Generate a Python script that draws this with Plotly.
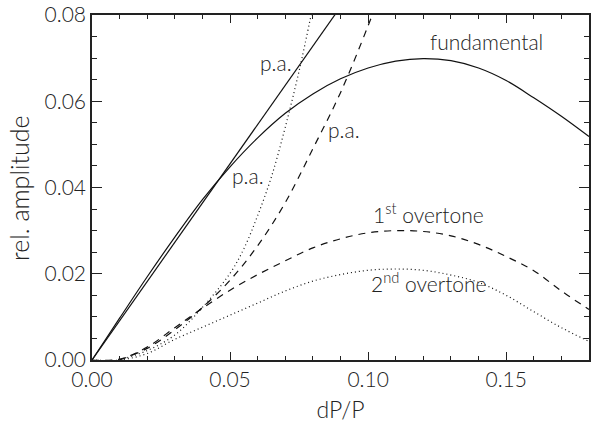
import plotly.graph_objects as go

# ---- data ----
x_grid = [0.00, 0.01, 0.02, 0.03, 0.04, 0.05, 0.06, 0.07, 0.08, 0.09,
          0.10, 0.11, 0.12, 0.13, 0.14, 0.15, 0.16, 0.17, 0.18]
fundamental = [0.0, 0.0097, 0.0193, 0.0285, 0.0372, 0.0448, 0.0515, 0.0572, 0.0617, 0.0652,
               0.0677, 0.0693, 0.0699, 0.0694, 0.0677, 0.0648, 0.0608, 0.0565, 0.0518]
overtone1 = [0.0, 0.0002, 0.0030, 0.0075, 0.0120, 0.0162, 0.0198, 0.0230, 0.0260, 0.0281,
             0.0295, 0.0300, 0.0298, 0.0288, 0.0268, 0.0240, 0.0207, 0.0160, 0.0117]
overtone2 = [0.0, 0.0000, 0.0015, 0.0048, 0.0076, 0.0104, 0.0132, 0.0160, 0.0183, 0.0198,
             0.0208, 0.0211, 0.0208, 0.0197, 0.0180, 0.0150, 0.0112, 0.0075, 0.0043]

pa_fund_x = [0.0, 0.09]
pa_fund_y = [0.0, 0.0819]

pa_ot1_x = [0.01, 0.02, 0.03, 0.04, 0.05, 0.06, 0.07, 0.08, 0.09, 0.10, 0.105]
pa_ot1_y = [0.0, 0.0027, 0.0070, 0.0122, 0.0185, 0.0265, 0.0365, 0.0490, 0.0620, 0.0775, 0.0860]

pa_ot2_x = [0.01, 0.02, 0.03, 0.04, 0.05, 0.055, 0.06, 0.065, 0.07, 0.075, 0.08]
pa_ot2_y = [0.0, 0.0022, 0.0058, 0.0122, 0.0201, 0.0258, 0.0335, 0.0425, 0.0540, 0.0670, 0.0820]

x_ticks = [0.00, 0.05, 0.10, 0.15]
y_ticks = [0.00, 0.02, 0.04, 0.06, 0.08]

labels = ["p.a.", "p.a.", "p.a.", "fundamental", "1<sup>st</sup> overtone", "2<sup>nd</sup> overtone"]
label_x = [0.0668, 0.0913, 0.0566, 0.1429, 0.122, 0.122]
label_y = [0.0690, 0.0534, 0.0428, 0.0738, 0.0340, 0.0180]

x_title = "dP/P"
y_title = "rel. amplitude"

FONT = "Lato, DejaVu Sans"
WEIGHT = 300
INK = "#111111"
TXT = "#222222"

fig = go.Figure()
line_solid = dict(color=INK, width=1.2)
line_dash = dict(color=INK, width=1.2, dash="7px,6px")
line_dot = dict(color=INK, width=1.2, dash="1px,3px")

fig.add_trace(go.Scatter(x=x_grid, y=fundamental, mode="lines", line_shape="spline", line=line_solid, name="fundamental"))
fig.add_trace(go.Scatter(x=pa_fund_x, y=pa_fund_y, mode="lines", line=line_solid, name="p.a. fundamental"))
fig.add_trace(go.Scatter(x=x_grid, y=overtone1, mode="lines", line_shape="spline", line=line_dash, name="1st overtone"))
fig.add_trace(go.Scatter(x=pa_ot1_x, y=pa_ot1_y, mode="lines", line_shape="spline", line=line_dash, name="p.a. 1st overtone"))
fig.add_trace(go.Scatter(x=x_grid, y=overtone2, mode="lines", line_shape="spline", line=line_dot, name="2nd overtone"))
fig.add_trace(go.Scatter(x=pa_ot2_x, y=pa_ot2_y, mode="lines", line_shape="spline", line=line_dot, name="p.a. 2nd overtone"))

for t, lx, ly in zip(labels, label_x, label_y):
    fig.add_annotation(x=lx, y=ly, text=t, showarrow=False,
                       font=dict(family=FONT, size=21, color=TXT, weight=WEIGHT),
                       xanchor="center", yanchor="middle")

# y-axis title (placed as a rotated annotation to sit at the reference position)
fig.add_annotation(xref="paper", yref="paper", x=-0.148, y=0.5, text=y_title, textangle=-90,
                   showarrow=False, xanchor="center", yanchor="middle",
                   font=dict(family=FONT, size=25, color=TXT, weight=WEIGHT))

axis_common = dict(
    showgrid=False, zeroline=False, showline=True, linecolor="#222222", linewidth=1.5,
    mirror="ticks", ticks="inside", tickcolor="#222222", tickwidth=1.2,
    tickfont=dict(family=FONT, size=21, color=TXT, weight=WEIGHT), tickformat=".2f",
    ticklabeloverflow="allow",
)

fig.update_xaxes(
    range=[0, 0.18], tickvals=x_ticks, ticklen=8,
    minor=dict(dtick=0.01, tick0=0, ticks="inside", ticklen=4, tickcolor="#222222", tickwidth=1.2),
    title=dict(text=x_title, font=dict(family=FONT, size=23, color=TXT, weight=WEIGHT), standoff=14),
    **axis_common,
)
fig.update_yaxes(
    range=[0, 0.08], tickvals=y_ticks, ticklen=10,
    minor=dict(dtick=0.005, tick0=0, ticks="inside", ticklen=5, tickcolor="#222222", tickwidth=1.2),
    **axis_common,
)

fig.update_layout(
    width=592, height=423,
    margin=dict(l=92, r=1, t=5, b=63),
    plot_bgcolor="white", paper_bgcolor="white",
    showlegend=False,
)

fig.write_html("out.html")
